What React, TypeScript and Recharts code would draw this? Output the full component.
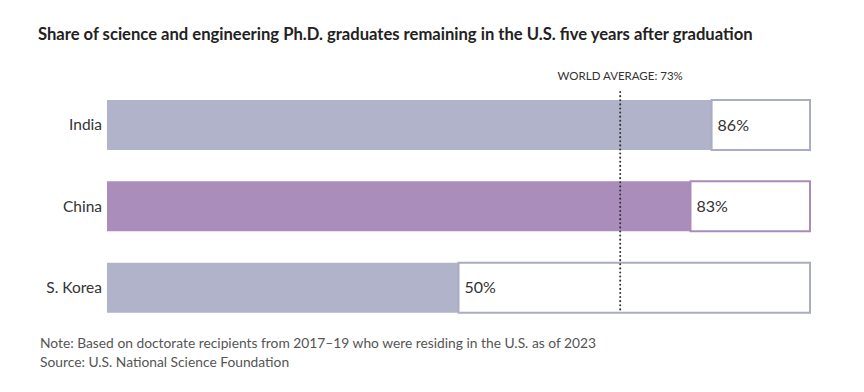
import React from 'react';
import { BarChart, Bar, XAxis, YAxis, Cell, LabelList, ReferenceLine } from 'recharts';

const countries = ['India', 'China', 'S. Korea'];
const shares = [86, 83, 50];
const worldAverage = 73;
const fills = ['#b0b3c9', '#aa8dbb', '#b0b3c9'];
const outlines = ['#a9acc4', '#a98bbc', '#a9acc4'];

const data = countries.map((c, i) => ({ country: c, value: shares[i], rest: 100 - shares[i] }));

const FONT = 'Lato, "Noto Sans", sans-serif';

// dotted line, trimmed a little inside the plot area like the original
const DottedLine = (props: any) => {
  const { x1, x2, y1, y2 } = props;
  const top = Math.min(y1, y2);
  const bottom = Math.max(y1, y2);
  return (
    <line x1={x1} x2={x2} y1={top + 8} y2={bottom - 18} stroke="#333" strokeWidth={2}
      strokeDasharray="0.1 4" strokeLinecap="round" />
  );
};

const App: React.FC = () => {
  return (
    <div style={{ position: 'absolute', left: 0, top: 0, width: 864, height: 392, background: '#fff', fontFamily: FONT }}>
      <div style={{ position: 'absolute', left: 38, top: 24, fontSize: 16.6, fontWeight: 700, color: '#222', whiteSpace: 'nowrap' }}>
        Share of science and engineering Ph.D. graduates remaining in the U.S. five years after graduation
      </div>
      <BarChart width={864} height={392} data={data} layout="vertical"
        margin={{ top: 84, right: 54, left: 27, bottom: 64 }} barSize={50}>
        <XAxis type="number" domain={[0, 100]} hide />
        <YAxis type="category" dataKey="country" width={80} axisLine={false} tickLine={false}
          tick={{ fill: '#333', fontSize: 15.5, fontFamily: FONT, dx: 3 }} />
        <Bar dataKey="value" stackId="a" isAnimationActive={false}>
          {data.map((d, i) => <Cell key={d.country} fill={fills[i]} />)}
        </Bar>
        <Bar dataKey="rest" stackId="a" isAnimationActive={false}>
          {data.map((d, i) => <Cell key={d.country} fill="#fff" stroke={outlines[i]} strokeWidth={2} />)}
          <LabelList dataKey="value" position="insideLeft" offset={6}
            formatter={(v: any) => `${v}%`}
            style={{ fill: '#333', fontSize: 16, fontFamily: FONT }} />
        </Bar>
        <ReferenceLine x={worldAverage} shape={DottedLine}
          label={{ value: `WORLD AVERAGE: ${worldAverage}%`, position: 'top', fill: '#333', fontSize: 11.5, fontFamily: FONT, offset: 4 }} />
      </BarChart>
      <div style={{ position: 'absolute', left: 40, top: 333, fontSize: 13.8, color: '#555', lineHeight: '19px' }}>
        <div>Note: Based on doctorate recipients from 2017–19 who were residing in the U.S. as of 2023</div>
        <div>Source: U.S. National Science Foundation</div>
      </div>
    </div>
  );
};

export default App;
